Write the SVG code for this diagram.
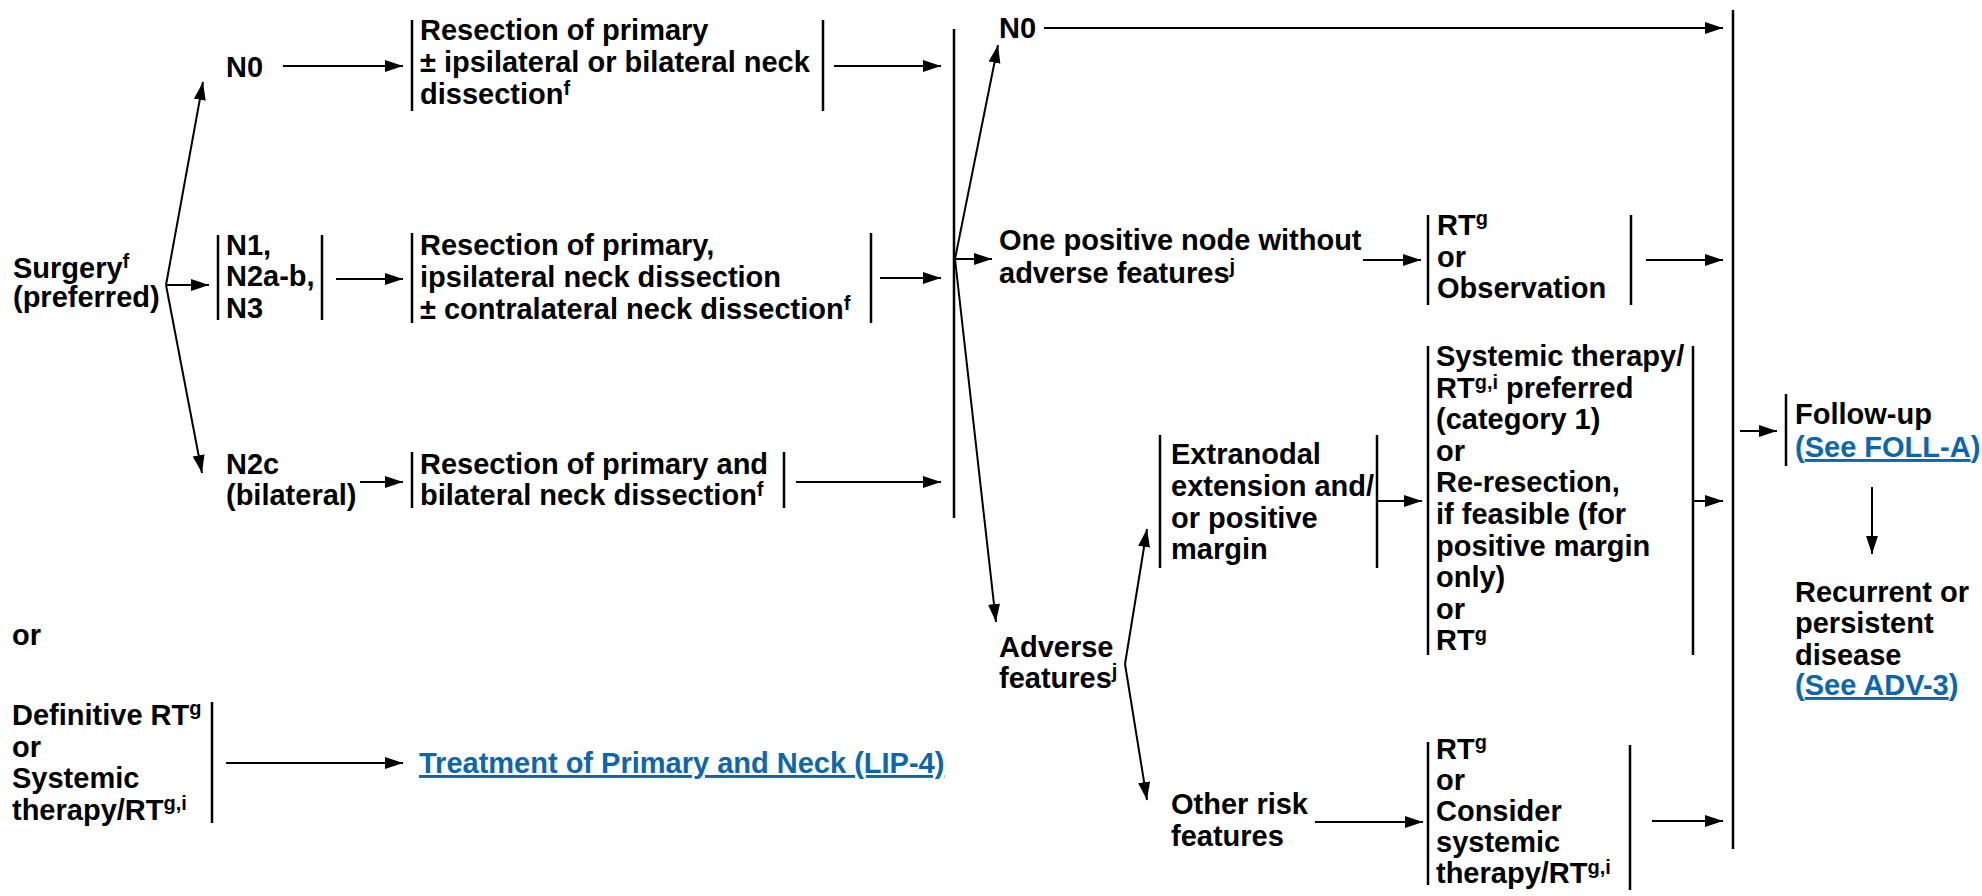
<svg xmlns="http://www.w3.org/2000/svg" width="1982" height="896" viewBox="0 0 1982 896">
  <style>
    .t { font-family: "Liberation Sans", Arial, Helvetica, sans-serif; font-size: 29px; font-weight: bold; fill: #000; }
    .sup { font-size: 20px; }
    .link { fill: #0b66ad; }
    .u { text-decoration: underline; }
    .bar { stroke: #000; stroke-width: 2.5; fill: none; }
    .arr { stroke: #000; stroke-width: 2; fill: none; marker-end: url(#ah); }
  </style>
  <defs>
    <marker id="ah" markerUnits="userSpaceOnUse" markerWidth="19" markerHeight="13" refX="18" refY="6" orient="auto">
      <path d="M0,0 L18,6 L0,12 z" fill="#000"/>
    </marker>
  </defs>
  <rect width="1982" height="896" fill="#fff"/>

  <!-- connectors -->
  <g id="connectors">
    <!-- surgery fork -->
    <line class="arr" x1="166" y1="285" x2="203" y2="82"/>
    <line class="arr" x1="166" y1="285" x2="209" y2="285"/>
    <line class="arr" x1="166" y1="285" x2="202" y2="473"/>
    <!-- nodal stage to resection -->
    <line class="arr" x1="283" y1="66" x2="403" y2="66"/>
    <line class="arr" x1="336" y1="279" x2="403" y2="279"/>
    <line class="arr" x1="360" y1="482" x2="403" y2="482"/>
    <!-- resection to pathology collector -->
    <line class="arr" x1="834" y1="66" x2="941" y2="66"/>
    <line class="arr" x1="880" y1="278" x2="941" y2="278"/>
    <line class="arr" x1="796" y1="482" x2="941" y2="482"/>
    <line class="bar" x1="954" y1="29" x2="954" y2="518"/>
    <!-- pathology fork -->
    <line class="arr" x1="955" y1="259" x2="998" y2="45"/>
    <line class="arr" x1="955" y1="259" x2="992" y2="259"/>
    <line class="arr" x1="955" y1="259" x2="996" y2="622"/>
    <!-- definitive RT -->
    <line class="arr" x1="226" y1="763" x2="403" y2="763"/>
    <!-- N0 to follow-up collector -->
    <line class="arr" x1="1044" y1="28" x2="1723" y2="28"/>
    <!-- one positive node -->
    <line class="arr" x1="1363" y1="260" x2="1421" y2="260"/>
    <line class="arr" x1="1646" y1="260" x2="1723" y2="260"/>
    <!-- adverse features fork -->
    <line class="arr" x1="1125" y1="664" x2="1147" y2="529"/>
    <line class="arr" x1="1125" y1="664" x2="1147" y2="800"/>
    <line class="arr" x1="1377" y1="501" x2="1422" y2="501"/>
    <line class="arr" x1="1693" y1="501" x2="1723" y2="501"/>
    <line class="arr" x1="1315" y1="822" x2="1423" y2="822"/>
    <line class="arr" x1="1652" y1="821" x2="1723" y2="821"/>
    <!-- follow-up collector -->
    <line class="bar" x1="1733" y1="10" x2="1733" y2="849"/>
    <line class="arr" x1="1740" y1="431" x2="1777" y2="431"/>
    <line class="arr" x1="1872" y1="487" x2="1872" y2="554"/>
  </g>

  <g id="surgery">
    <text class="t" x="13" y="278">Surgery<tspan class="sup" dy="-10">f</tspan></text>
    <text class="t" x="13" y="307">(preferred)</text>
  </g>

  <g id="n0-left">
    <text class="t" x="226" y="77">N0</text>
  </g>

  <g id="n1-n3">
    <line class="bar" x1="218" y1="235" x2="218" y2="320"/>
    <line class="bar" x1="322" y1="235" x2="322" y2="320"/>
    <text class="t" x="226" y="255">N1,</text>
    <text class="t" x="226" y="286">N2a-b,</text>
    <text class="t" x="226" y="318">N3</text>
  </g>

  <g id="n2c">
    <text class="t" x="226" y="474">N2c</text>
    <text class="t" x="226" y="505">(bilateral)</text>
  </g>

  <g id="resection-n0">
    <line class="bar" x1="412" y1="20" x2="412" y2="111"/>
    <line class="bar" x1="823" y1="20" x2="823" y2="111"/>
    <text class="t" x="420" y="40">Resection of primary</text>
    <text class="t" x="420" y="72">± ipsilateral or bilateral neck</text>
    <text class="t" x="420" y="104">dissection<tspan class="sup" dy="-9">f</tspan></text>
  </g>

  <g id="resection-n1">
    <line class="bar" x1="412" y1="233" x2="412" y2="323"/>
    <line class="bar" x1="871" y1="233" x2="871" y2="323"/>
    <text class="t" x="420" y="255">Resection of primary,</text>
    <text class="t" x="420" y="287">ipsilateral neck dissection</text>
    <text class="t" x="420" y="319">± contralateral neck dissection<tspan class="sup" dy="-9">f</tspan></text>
  </g>

  <g id="resection-n2c">
    <line class="bar" x1="412" y1="452" x2="412" y2="508"/>
    <line class="bar" x1="784" y1="452" x2="784" y2="508"/>
    <text class="t" x="420" y="474">Resection of primary and</text>
    <text class="t" x="420" y="505">bilateral neck dissection<tspan class="sup" dy="-9">f</tspan></text>
  </g>

  <g id="or-left">
    <text class="t" x="12" y="645">or</text>
  </g>

  <g id="definitive">
    <line class="bar" x1="212" y1="702" x2="212" y2="823"/>
    <text class="t" x="12" y="725">Definitive RT<tspan class="sup" dy="-10">g</tspan></text>
    <text class="t" x="12" y="757">or</text>
    <text class="t" x="12" y="788">Systemic</text>
    <text class="t" x="12" y="820">therapy/RT<tspan class="sup" dy="-10">g,i</tspan></text>
  </g>

  <g id="lip4">
    <text class="t link u" x="419" y="773">Treatment of Primary and Neck (LIP-4)</text>
  </g>

  <g id="n0-right">
    <text class="t" x="999" y="38">N0</text>
  </g>

  <g id="one-positive">
    <text class="t" x="999" y="250">One positive node without</text>
    <text class="t" x="999" y="283">adverse features<tspan class="sup" dy="-10">j</tspan></text>
  </g>

  <g id="rt-observation">
    <line class="bar" x1="1428" y1="215" x2="1428" y2="305"/>
    <line class="bar" x1="1631" y1="215" x2="1631" y2="305"/>
    <text class="t" x="1437" y="235">RT<tspan class="sup" dy="-10">g</tspan></text>
    <text class="t" x="1437" y="267">or</text>
    <text class="t" x="1437" y="298">Observation</text>
  </g>

  <g id="adverse">
    <text class="t" x="999" y="657">Adverse</text>
    <text class="t" x="999" y="688">features<tspan class="sup" dy="-10">j</tspan></text>
  </g>

  <g id="extranodal">
    <line class="bar" x1="1160" y1="435" x2="1160" y2="568"/>
    <line class="bar" x1="1377" y1="435" x2="1377" y2="568"/>
    <text class="t" x="1171" y="464">Extranodal</text>
    <text class="t" x="1171" y="496">extension and/</text>
    <text class="t" x="1171" y="528">or positive</text>
    <text class="t" x="1171" y="559">margin</text>
  </g>

  <g id="systemic-options">
    <line class="bar" x1="1428" y1="346" x2="1428" y2="655"/>
    <line class="bar" x1="1693" y1="346" x2="1693" y2="655"/>
    <text class="t" x="1436" y="366">Systemic therapy/</text>
    <text class="t" x="1436" y="398">RT<tspan class="sup" dy="-9">g,i</tspan><tspan dy="9"> preferred</tspan></text>
    <text class="t" x="1436" y="429">(category 1)</text>
    <text class="t" x="1436" y="461">or</text>
    <text class="t" x="1436" y="492">Re-resection,</text>
    <text class="t" x="1436" y="524">if feasible (for</text>
    <text class="t" x="1436" y="556">positive margin</text>
    <text class="t" x="1436" y="587">only)</text>
    <text class="t" x="1436" y="619">or</text>
    <text class="t" x="1436" y="650">RT<tspan class="sup" dy="-9">g</tspan></text>
  </g>

  <g id="other-risk">
    <text class="t" x="1171" y="814">Other risk</text>
    <text class="t" x="1171" y="846">features</text>
  </g>

  <g id="rt-consider">
    <line class="bar" x1="1428" y1="742" x2="1428" y2="885"/>
    <line class="bar" x1="1630" y1="745" x2="1630" y2="890"/>
    <text class="t" x="1436" y="759">RT<tspan class="sup" dy="-10">g</tspan></text>
    <text class="t" x="1436" y="790">or</text>
    <text class="t" x="1436" y="821">Consider</text>
    <text class="t" x="1436" y="852">systemic</text>
    <text class="t" x="1436" y="883">therapy/RT<tspan class="sup" dy="-9">g,i</tspan></text>
  </g>

  <g id="follow-up">
    <line class="bar" x1="1786" y1="394" x2="1786" y2="466"/>
    <text class="t" x="1795" y="424">Follow-up</text>
    <text class="t link" x="1795" y="457">(<tspan class="u">See FOLL-A</tspan>)</text>
  </g>

  <g id="recurrent">
    <text class="t" x="1795" y="602">Recurrent or</text>
    <text class="t" x="1795" y="633">persistent</text>
    <text class="t" x="1795" y="665">disease</text>
    <text class="t link" x="1795" y="695">(<tspan class="u">See ADV-3</tspan>)</text>
  </g>
</svg>
